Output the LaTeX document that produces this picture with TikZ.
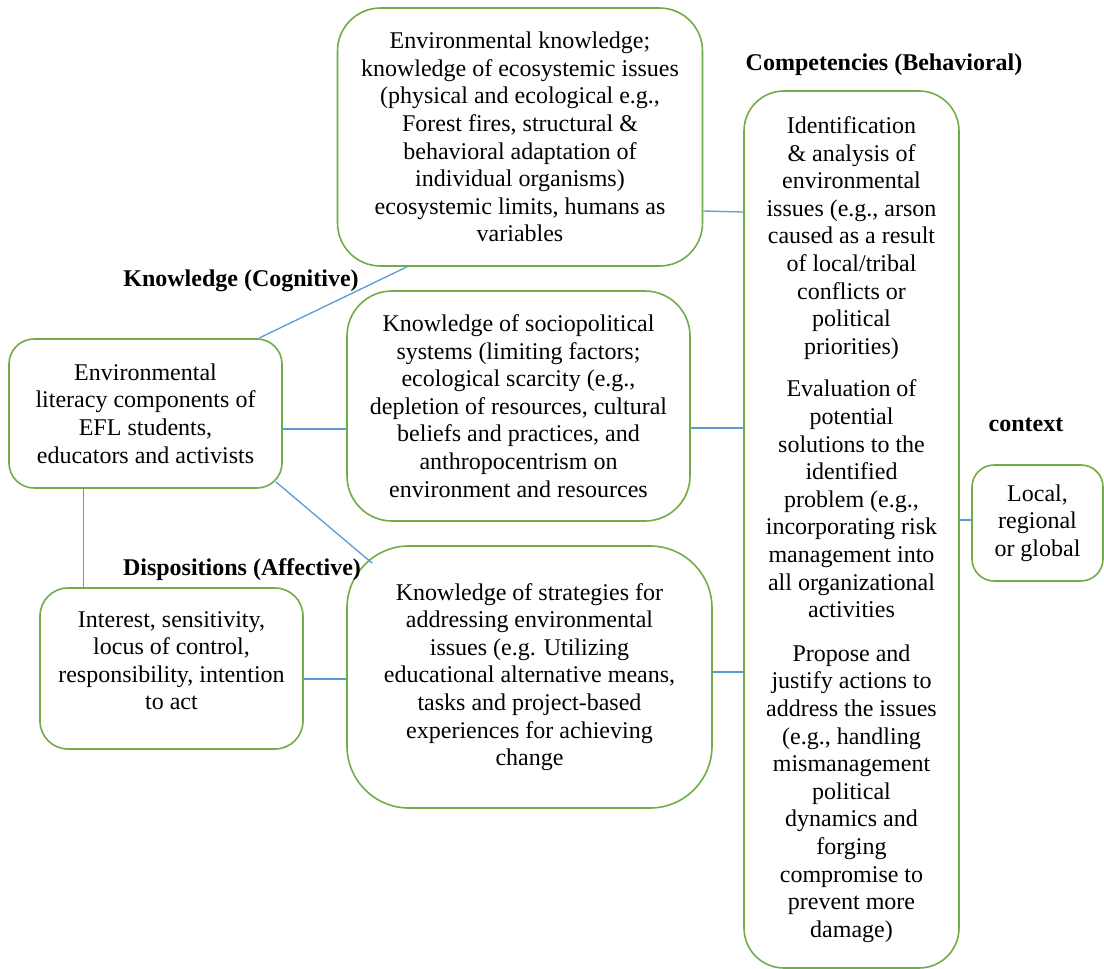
\documentclass[tikz,border=0pt]{standalone}
\usepackage{fontspec}
\setmainfont{Liberation Serif}
\definecolor{boxgreen}{RGB}{112,173,71}
\definecolor{linkblue}{RGB}{91,155,213}
\begin{document}
\begin{tikzpicture}[x=1pt,y=-1pt,
  box/.style={draw=boxgreen, line width=1.6pt, align=center, inner sep=0pt, font=\fontsize{24}{27.6}\selectfont},
  link/.style={draw=linkblue, line width=1.3pt},
  head/.style={font=\fontsize{24}{27.6}\selectfont\bfseries, inner sep=0pt}]
\useasboundingbox[fill=white] (0,0) rectangle (1104,969);

\node[box, minimum width=365pt, minimum height=258pt, rounded corners=43pt] (env) at (520,137)
 {Environmental knowledge;\\knowledge of ecosystemic issues\\(physical and ecological e.g.,\\Forest fires, structural \&\\behavioral adaptation of\\individual organisms)\\ecosystemic limits, humans as\\variables};

\node[box, minimum width=343pt, minimum height=230pt, rounded corners=45pt] (soc) at (518.5,406)
 {Knowledge of sociopolitical\\systems (limiting factors;\\ecological scarcity (e.g.,\\depletion of resources, cultural\\beliefs and practices, and\\anthropocentrism on\\environment and resources};

\node[box, minimum width=365pt, minimum height=262pt, rounded corners=62pt] (str) at (529.5,677)
 {Knowledge of strategies for\\addressing environmental\\issues (e.g. Utilizing\\educational alternative means,\\tasks and project-based\\experiences for achieving\\change};

\node[box, minimum width=273pt, minimum height=149pt, rounded corners=25pt] (lit) at (145.5,413.5)
 {Environmental\\literacy components of\\EFL students,\\educators and activists};

\node[box, minimum width=263pt, minimum height=161pt, rounded corners=28pt] (dis) at (171.5,668.5)
 {Interest, sensitivity,\\locus of control,\\responsibility, intention\\to act\\[-11.6pt]\mbox{}};

\node[box, minimum width=215pt, minimum height=877pt, rounded corners=40pt] (com) at (851.5,529.5)
 {Identification\\\& analysis of\\environmental\\issues (e.g., arson\\caused as a result\\of local/tribal\\conflicts or\\political\\priorities)\\[15pt]
  Evaluation of\\potential\\solutions to the\\identified\\problem (e.g.,\\incorporating risk\\management into\\all organizational\\activities\\[16pt]
  Propose and\\justify actions to\\address the issues\\(e.g., handling\\mismanagement\\political\\dynamics and\\forging\\compromise to\\prevent more\\damage)};

\node[box, minimum width=131pt, minimum height=116pt, rounded corners=22pt] (ctx) at (1037.5,523)
 {Local,\\regional\\or global};

\node[head] (kc) at (241,281) {Knowledge (Cognitive)};
\node[head] (da) at (242,570) {Dispositions (Affective)};
\node[head] (cb) at (884,65) {Competencies (Behavioral)};
\node[head] (ct) at (1026,425) {context};

\draw[link] ([xshift=-24pt]lit.north east) -- ([xshift=-113pt]env.south);
\draw[link] ([yshift=-15.5pt]lit.east) -- ([yshift=-23pt]soc.west);
\draw[link] ([xshift=-7pt,yshift=7pt]lit.south east) -- ([xshift=26pt,yshift=-18pt]str.north west);
\draw[link] ([xshift=-62pt]lit.south) -- ([xshift=-88pt]dis.north);
\draw[link] ([yshift=-10.5pt]dis.east) -- ([yshift=-2pt]str.west);
\draw[link] ([yshift=-74pt]env.east) -- ([yshift=317.5pt]com.west);
\draw[link] ([yshift=-22pt]soc.east) -- ([yshift=101.5pt]com.west);
\draw[link] ([yshift=5pt]str.east) -- ([yshift=-142.5pt]com.west);
\draw[link] ([yshift=9.5pt]com.east) -- ([yshift=3pt]ctx.west);
\end{tikzpicture}
\end{document}
